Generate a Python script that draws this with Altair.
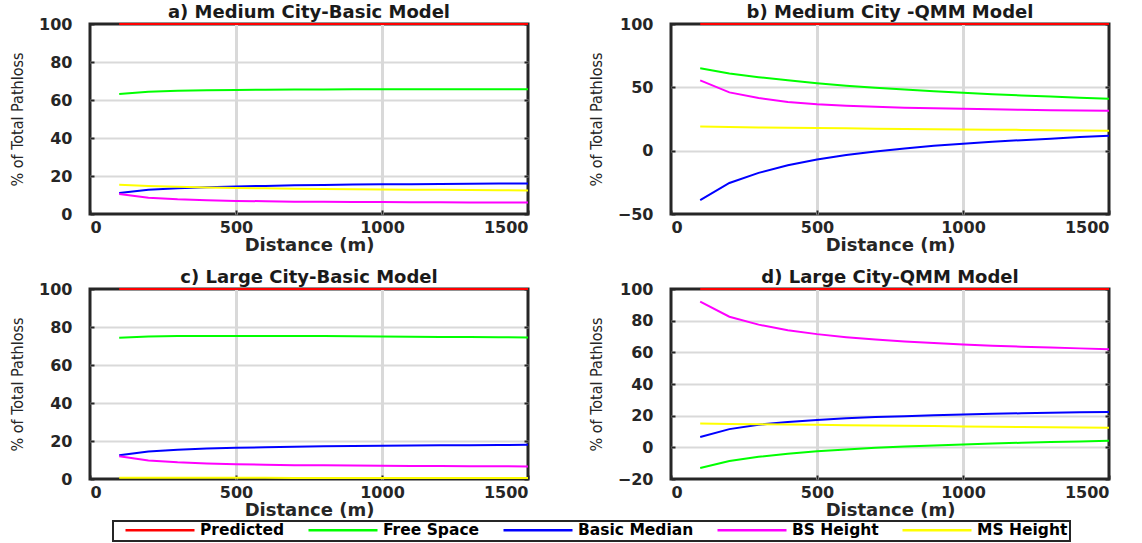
import altair as alt
import pandas as pd

distance = [100, 200, 300, 400, 500, 600, 700, 800, 900, 1000, 1100, 1200, 1300, 1400, 1500]
series_names = ["Predicted", "Free Space", "Basic Median", "BS Height", "MS Height"]
series_colors = ["#ff0000", "#00ff00", "#0000ff", "#ff00ff", "#ffff00"]

predicted = [100, 100, 100, 100, 100, 100, 100, 100, 100, 100, 100, 100, 100, 100, 100]

# a) Medium City - Basic Model
fs_a = [63.2, 64.4, 64.9, 65.1, 65.3, 65.4, 65.5, 65.5, 65.6, 65.6, 65.6, 65.6, 65.6, 65.6, 65.6]
bm_a = [11.0, 12.8, 13.6, 14.1, 14.5, 14.8, 15.1, 15.3, 15.5, 15.6, 15.7, 15.8, 15.9, 16.0, 16.1]
bs_a = [10.5, 8.6, 7.7, 7.2, 6.9, 6.7, 6.5, 6.4, 6.3, 6.3, 6.2, 6.2, 6.1, 6.1, 6.0]
ms_a = [15.4, 14.8, 14.3, 14.0, 13.7, 13.5, 13.3, 13.2, 13.0, 12.9, 12.8, 12.7, 12.6, 12.5, 12.4]

# b) Medium City - QMM Model
fs_b = [65.0, 61.0, 58.0, 55.5, 53.2, 51.3, 49.6, 48.2, 46.9, 45.7, 44.6, 43.6, 42.7, 41.8, 41.0]
bm_b = [-39.0, -25.5, -17.5, -11.5, -7.0, -3.5, -0.6, 1.8, 3.8, 5.5, 7.0, 8.3, 9.5, 10.7, 11.8]
bs_b = [55.5, 46.0, 41.5, 38.5, 36.7, 35.5, 34.6, 33.9, 33.4, 33.0, 32.6, 32.3, 32.0, 31.7, 31.5]
ms_b = [19.0, 18.6, 18.3, 18.0, 17.8, 17.6, 17.4, 17.2, 17.0, 16.8, 16.6, 16.4, 16.2, 16.0, 15.8]

# c) Large City - Basic Model
fs_c = [74.3, 75.0, 75.2, 75.3, 75.3, 75.3, 75.2, 75.2, 75.1, 75.0, 74.9, 74.8, 74.7, 74.6, 74.5]
bm_c = [12.5, 14.5, 15.4, 16.0, 16.4, 16.7, 17.0, 17.2, 17.4, 17.5, 17.6, 17.7, 17.8, 17.9, 18.0]
bs_c = [12.0, 9.8, 8.8, 8.2, 7.8, 7.5, 7.3, 7.2, 7.1, 7.0, 6.9, 6.8, 6.7, 6.7, 6.6]
ms_c = [0.6, 0.6, 0.6, 0.6, 0.6, 0.6, 0.5, 0.5, 0.5, 0.5, 0.5, 0.5, 0.5, 0.5, 0.5]

# d) Large City - QMM Model
fs_d = [-13.0, -8.7, -6.0, -4.0, -2.5, -1.3, -0.3, 0.5, 1.2, 1.8, 2.4, 2.9, 3.3, 3.7, 4.1]
bm_d = [6.5, 11.5, 14.3, 16.0, 17.3, 18.3, 19.1, 19.7, 20.3, 20.8, 21.2, 21.5, 21.8, 22.1, 22.3]
bs_d = [92.0, 82.5, 77.5, 74.0, 71.5, 69.6, 68.1, 66.9, 65.9, 65.0, 64.2, 63.6, 63.0, 62.5, 62.0]
ms_d = [15.0, 14.8, 14.6, 14.4, 14.2, 14.0, 13.8, 13.6, 13.4, 13.2, 13.0, 12.9, 12.7, 12.5, 12.3]

panel_titles = ["a) Medium City-Basic Model", "b) Medium City -QMM Model",
                "c) Large City-Basic Model", "d) Large City-QMM Model"]
panel_series = {
    "a": [predicted, fs_a, bm_a, bs_a, ms_a],
    "b": [predicted, fs_b, bm_b, bs_b, ms_b],
    "c": [predicted, fs_c, bm_c, bs_c, ms_c],
    "d": [predicted, fs_d, bm_d, bs_d, ms_d],
}
y_domains = {"a": [0, 100], "b": [-50, 100], "c": [0, 100], "d": [-20, 100]}
y_ticks = {"a": [0, 20, 40, 60, 80, 100], "b": [-50, 0, 50, 100],
           "c": [0, 20, 40, 60, 80, 100], "d": [-20, 0, 20, 40, 60, 80, 100]}
x_ticks = [0, 500, 1000, 1500]
x_domain = [0, 1500]

rows = []
for key, lists in panel_series.items():
    for name, vals in zip(series_names, lists):
        for d, v in zip(distance, vals):
            rows.append({"panel": key, "series": name, "distance": d, "value": v})
df = pd.DataFrame(rows)

BOLD = "DejaVu Sans"
NARROW = "Liberation Sans Narrow, DejaVu Sans Condensed, Roboto Condensed, Roboto, sans-serif"
INK = "#262626"
GRID = "#d9d9d9"

color_scale = alt.Scale(domain=series_names, range=series_colors)
legend = alt.Legend(orient="none", legendX=23, legendY=497, direction="horizontal",
                    title=None, symbolType="stroke", symbolSize=4761, symbolStrokeWidth=2.5,
                    clipHeight=14,
                    labelFont=BOLD, labelFontSize=15.5, labelFontWeight="bold",
                    labelColor="black", strokeColor=INK, padding=2, columnPadding=13,
                    labelOffset=4, symbolOffset=9)


def edge_test(lo, hi):
    return f"datum.value == {lo} || datum.value == {hi}"


def panel(key, title):
    base = alt.Chart(df).transform_filter(alt.datum.panel == key)
    xs = alt.Scale(domain=x_domain, nice=False)
    ys = alt.Scale(domain=y_domains[key], nice=False, zero=False)
    ylo, yhi = y_domains[key]
    lines = base.mark_line(strokeWidth=2, clip=False).encode(
        x=alt.X("distance:Q", scale=xs,
                axis=alt.Axis(values=x_ticks, format="d", title="Distance (m)", grid=True,
                              gridColor=GRID, gridWidth=3,
                              gridOpacity={"condition": {"test": edge_test(*x_domain), "value": 0},
                                           "value": 1},
                              domain=False,
                              offset=-4, tickSize=4, tickColor=INK, tickWidth=2,
                              labelPadding=5, labelFont=BOLD, labelFontSize=16,
                              labelFontWeight="bold", labelColor=INK,
                              titleFont=BOLD, titleFontSize=18,
                              titleFontWeight="bold", titleColor=INK, titlePadding=1)),
        y=alt.Y("value:Q", scale=ys,
                axis=alt.Axis(values=y_ticks[key], format="d", title="% of Total Pathloss",
                              grid=True, gridColor=GRID, gridWidth=2,
                              gridOpacity={"condition": {"test": edge_test(ylo, yhi), "value": 0},
                                           "value": 1},
                              domain=False,
                              offset=-4, tickSize=4, tickColor=INK, tickWidth=2,
                              labelPadding=18, labelFont=BOLD, labelFontSize=16,
                              labelFontWeight="bold", labelColor=INK,
                              titleFont=NARROW, titleFontSize=16,
                              titleFontWeight="normal", titleColor=INK, titlePadding=13)),
        color=alt.Color("series:N", scale=color_scale, legend=legend, sort=series_names),
    )
    right = base.mark_line(opacity=0).encode(
        x=alt.X("distance:Q", scale=xs),
        y=alt.Y("value:Q", scale=ys,
                axis=alt.Axis(orient="right", values=y_ticks[key], offset=-4, tickSize=4,
                              tickColor=INK, tickWidth=2, labels=False, domain=False,
                              grid=False, title=None)),
    )
    return alt.layer(right, lines).resolve_axis(y="independent").properties(
        width=438, height=190,
        title=alt.TitleParams(title, font=BOLD, fontSize=18, fontWeight="bold",
                              color="#1a1a1a", offset=-6, anchor="middle", frame="group"))


chart = alt.concat(
    panel("a", panel_titles[0]), panel("b", panel_titles[1]),
    panel("c", panel_titles[2]), panel("d", panel_titles[3]),
    columns=2,
    spacing={"row": 75, "column": 143},
).configure_view(stroke=INK, strokeWidth=3).configure_legend(strokeWidth=2).properties(
    padding={"left": 8, "top": 2, "right": 5, "bottom": 3},
    bounds="flush",
    background="white",
)

chart.save("out.html", embed_options={"renderer": "svg", "actions": False})
